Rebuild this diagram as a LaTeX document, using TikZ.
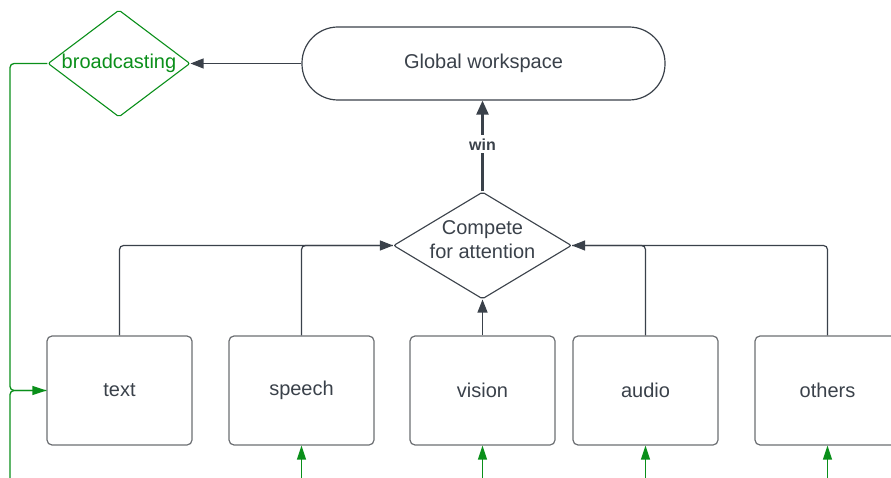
\documentclass[tikz,border=0pt]{standalone}
\usepackage{fontspec}
\setmainfont{Liberation Sans}
\usetikzlibrary{arrows.meta,shapes.geometric}
\definecolor{ink}{HTML}{3A414A}
\definecolor{boxline}{HTML}{6B6E72}
\definecolor{grn}{HTML}{0A8F1A}
\begin{document}
\begin{tikzpicture}[x=1pt,y=-1pt,
  every node/.style={font=\fontsize{20}{24}\selectfont, text=ink, inner sep=0pt},
  ws/.style={draw=ink, line width=1.2pt, rectangle, rounded corners=36pt, minimum width=363pt, minimum height=73pt},
  dia/.style={draw=ink, line width=1.1pt, diamond, rounded corners=2pt},
  box/.style={draw=boxline, line width=1.2pt, rectangle, rounded corners=5pt, minimum width=145pt, minimum height=109pt},
  ln/.style={draw=ink, line width=1.2pt, rounded corners=4pt},
  tip/.style={-{Triangle[length=13pt,width=10pt]}},
  gline/.style={draw=grn, line width=1.3pt, rounded corners=4pt},
  gtip/.style={-{Triangle[length=14pt,width=9pt]}}
]
\useasboundingbox (0,0) rectangle (891,478);
\node[ws] (gw) at (483.5,63.5) {Global workspace};
\node[dia, draw=grn, minimum width=142pt, minimum height=107pt] (bc) at (119,63.5) {};
\node[text=grn] (bct) at (bc) {broadcasting};
\node[dia, minimum width=178pt, minimum height=107pt] (cmp) at (482.5,245.5) {};
\node[align=center, anchor=center] (cmpt) at ([yshift=6pt]cmp.center) {Compete\\for attention};
\node[box] (t) at (119.5,390.5) {text};
\node[box] (s) at (301.5,390.5) {speech};
\node[box] (v) at (482.5,390.5) {vision};
\node[box] (a) at (645.5,390.5) {audio};
\node[box] (o) at (827.5,390.5) {others};
% dark connectors
\draw[ln,tip] (t.north) |- (cmp.west);
\draw[ln] (s.north) |- (cmp.west);
\draw[ln,tip] (v.north) -- (cmp.south);
\draw[ln,tip] (a.north) |- (cmp.east);
\draw[ln] (o.north) |- (cmp.east);
\draw[ln,tip] (gw.west) -- (bc.east);
\draw[draw=ink, line width=2.4pt, -{Triangle[length=14pt,width=12pt]}] (cmp.north) -- node[pos=0.52, fill=white, inner sep=3pt, font=\fontsize{16}{18}\selectfont\bfseries] (win) {win} (cmp.north |- gw.south);
% green connectors
\coordinate (gx) at (10,478);
\draw[gline,gtip] (bc.west) -| (gx |- t.west) -- (t.west);
\draw[gline] (gx) |- (t.west);
\foreach \b in {s,v,a,o}{
  \coordinate (\b b) at (\b.south |- gx);
  \draw[gline,gtip,rounded corners=0pt] (\b b) -- (\b.south);
}
\end{tikzpicture}
\end{document}
